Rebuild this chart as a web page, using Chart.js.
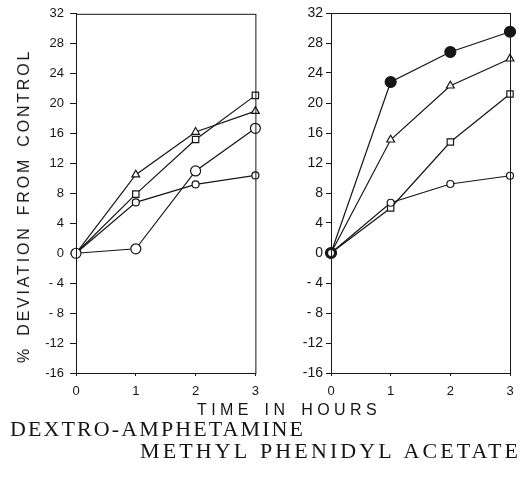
<!DOCTYPE html>
<html>
<head>
<meta charset="utf-8">
<script src="https://cdn.jsdelivr.net/npm/chart.js@4/dist/chart.umd.min.js"></script>
<style>
  html, body { margin:0; padding:0; background:#fff; }
  #wrap { position:relative; width:527px; height:479px; overflow:hidden; background:#fff; }
  .cv { position:absolute; top:0; }
  .txt { position:absolute; color:#151515; white-space:nowrap; }
  #ytitle { left:24px; top:206px; font:16px "Liberation Sans", Arial, sans-serif; letter-spacing:2.8px; word-spacing:3px;
            transform:translate(-50%,-50%) rotate(-90deg); }
  #xtitle { left:289px; top:410px; font:16px "Liberation Sans", Arial, sans-serif; letter-spacing:4.4px; word-spacing:3px;
            transform:translate(-50%,-50%); }
  .cap { font:22px "Liberation Serif", "DejaVu Serif", serif; }
</style>
</head>
<body>
<div id="wrap">
  <div class="cv" style="left:0;width:267px;height:402px"><canvas id="left"></canvas></div>
  <div class="cv" style="left:262px;width:265px;height:402px"><canvas id="right"></canvas></div>
  <div class="txt" id="ytitle">% DEVIATION FROM CONTROL</div>
  <div class="txt" id="xtitle">TIME IN HOURS</div>
  <div class="txt cap" style="left:10px;top:416px;letter-spacing:2.1px">DEXTRO-AMPHETAMINE</div>
  <div class="txt cap" style="left:140px;top:438px;letter-spacing:3.1px;word-spacing:2px">METHYL PHENIDYL ACETATE</div>
</div>
<script>
// data
const hours = ['0', '1', '2', '3'];
const yTicks = [32, 28, 24, 20, 16, 12, 8, 4, 0, -4, -8, -12, -16];

// left panel
const leftTriangle = [0, 10.5, 16.2, 19.0];
const leftSquare = [0, 7.9, 15.2, 21.1];
const leftBigCircle = [0, 0.6, 11.0, 16.7];
const leftSmallCircle = [0, 6.8, 9.2, 10.4];

// right panel
const rightFilled = [0, 22.8, 26.8, 29.5];
const rightTriangle = [0, 15.1, 22.3, 25.9];
const rightSquare = [0, 6.0, 14.8, 21.2];
const rightSmallCircle = [0, 6.7, 9.2, 10.3];

const INK = '#161616';

function ds(data, style, radius, fill) {
  return {
    data, borderColor: INK, borderWidth: 1.2, tension: 0,
    pointStyle: style, pointRadius: radius, pointHoverRadius: radius,
    pointBackgroundColor: fill || '#fff', pointBorderColor: INK, pointBorderWidth: 1.2,
  };
}

const frame = {
  id: 'frame',
  afterDraw(chart) {
    const { ctx, chartArea: a } = chart;
    ctx.save();
    ctx.strokeStyle = INK;
    ctx.lineWidth = 1;
    ctx.strokeRect(a.left + 0.5, a.top + 0.5, a.right - a.left, a.bottom - a.top);
    ctx.restore();
  },
};

function makeChart(id, datasets, o) {
  new Chart(document.getElementById(id), {
    type: 'line',
    data: { labels: hours, datasets },
    plugins: [frame],
    options: {
      responsive: true, maintainAspectRatio: false, animation: false,
      layout: { padding: { top: 13, right: o.padRight, bottom: 0, left: 0 } },
      plugins: { legend: { display: false }, tooltip: { enabled: false } },
      scales: {
        x: {
          grid: { display: true, drawOnChartArea: false, drawTicks: true, tickLength: 3, color: INK },
          border: { color: INK, width: 1 },
          ticks: { color: INK, font: { family: 'Liberation Sans', size: 13 }, padding: 8, maxRotation: 0 },
          afterFit: (s) => { s.height = 29; },
        },
        y: {
          min: -16, max: 32,
          afterBuildTicks: (s) => { s.ticks = yTicks.map((v) => ({ value: v })); },
          grid: { display: true, drawOnChartArea: false, drawTicks: true, tickLength: o.tickLen, color: INK },
          border: { color: INK, width: 1 },
          ticks: {
            color: INK, font: { family: 'Liberation Sans', size: o.font }, padding: o.tickPad,
            callback: (v) => (v < 0 && v > -10 ? '- ' + Math.abs(v) : String(v)),
          },
          afterFit: (s) => { s.width = o.yWidth; },
        },
      },
    },
  });
}

makeChart('left', [
  ds(leftBigCircle, 'circle', 5),
  ds(leftSmallCircle, 'circle', 3.5),
  ds(leftSquare, 'rect', 4.5),
  ds(leftTriangle, 'triangle', 4.5),
], { yWidth: 76, padRight: 7, tickLen: 6, tickPad: 6, font: 13 });

makeChart('right', [
  ds(rightSmallCircle, 'circle', 3.5),
  ds(rightSquare, 'rect', 4.5),
  ds(rightTriangle, 'triangle', 4.5),
  ds(rightFilled, 'circle', 5.5, INK),
], { yWidth: 69, padRight: 17, tickLen: 5, tickPad: 3, font: 14 });
</script>
</body>
</html>
